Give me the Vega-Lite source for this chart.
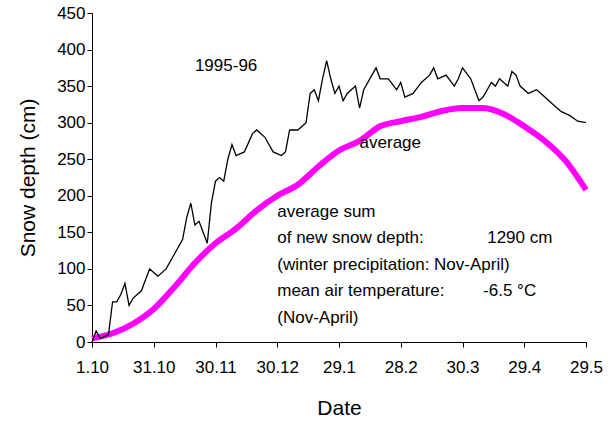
{
  "$schema": "https://vega.github.io/schema/vega-lite/v6.json",
  "width": 494,
  "height": 329,
  "autosize": "none",
  "padding": {"left": 92, "top": 13, "right": 27, "bottom": 94},
  "background": "white",
  "config": {
    "view": {"stroke": null},
    "font": "Liberation Sans",
    "axis": {"grid": false, "domainColor": "black", "tickColor": "black", "labelColor": "black", "titleColor": "black", "labelFontSize": 17, "titleFontSize": 21, "titleFontWeight": "normal", "tickSize": 5, "labelOverlap": false, "labelFlush": false}
  },
  "datasets": {
    "season": [
      {"day":0,"depth":0},{"day":2,"depth":15},{"day":4,"depth":5},{"day":8,"depth":10},{"day":10,"depth":55},{"day":12,"depth":55},{"day":14,"depth":65},{"day":16,"depth":80},{"day":18,"depth":50},{"day":20,"depth":60},{"day":24,"depth":70},{"day":28,"depth":100},{"day":32,"depth":90},{"day":36,"depth":100},{"day":40,"depth":120},{"day":44,"depth":140},{"day":46,"depth":170},{"day":48,"depth":190},{"day":50,"depth":160},{"day":52,"depth":165},{"day":56,"depth":135},{"day":58,"depth":190},{"day":60,"depth":220},{"day":62,"depth":225},{"day":64,"depth":220},{"day":66,"depth":250},{"day":68,"depth":270},{"day":70,"depth":255},{"day":74,"depth":260},{"day":78,"depth":285},{"day":80,"depth":290},{"day":84,"depth":280},{"day":88,"depth":260},{"day":92,"depth":255},{"day":94,"depth":260},{"day":96,"depth":290},{"day":100,"depth":290},{"day":104,"depth":300},{"day":106,"depth":340},{"day":108,"depth":345},{"day":110,"depth":330},{"day":112,"depth":360},{"day":114,"depth":385},{"day":116,"depth":360},{"day":118,"depth":340},{"day":120,"depth":350},{"day":122,"depth":330},{"day":124,"depth":340},{"day":128,"depth":350},{"day":130,"depth":320},{"day":132,"depth":345},{"day":136,"depth":365},{"day":138,"depth":375},{"day":140,"depth":360},{"day":144,"depth":360},{"day":148,"depth":345},{"day":150,"depth":355},{"day":152,"depth":335},{"day":156,"depth":340},{"day":160,"depth":355},{"day":164,"depth":365},{"day":166,"depth":375},{"day":168,"depth":360},{"day":172,"depth":365},{"day":176,"depth":350},{"day":178,"depth":360},{"day":180,"depth":375},{"day":184,"depth":360},{"day":186,"depth":345},{"day":188,"depth":330},{"day":190,"depth":335},{"day":194,"depth":355},{"day":196,"depth":350},{"day":198,"depth":360},{"day":200,"depth":355},{"day":202,"depth":350},{"day":204,"depth":370},{"day":206,"depth":365},{"day":208,"depth":350},{"day":212,"depth":340},{"day":216,"depth":345},{"day":220,"depth":335},{"day":224,"depth":325},{"day":228,"depth":315},{"day":232,"depth":310},{"day":236,"depth":302},{"day":240,"depth":300}
    ],
    "avg": [
      {"day":0,"depth":5},{"day":10,"depth":12},{"day":20,"depth":25},{"day":30,"depth":45},{"day":40,"depth":75},{"day":50,"depth":108},{"day":60,"depth":135},{"day":70,"depth":155},{"day":80,"depth":180},{"day":90,"depth":200},{"day":100,"depth":215},{"day":110,"depth":240},{"day":120,"depth":262},{"day":130,"depth":275},{"day":140,"depth":295},{"day":150,"depth":302},{"day":160,"depth":308},{"day":170,"depth":316},{"day":180,"depth":320},{"day":190,"depth":320},{"day":200,"depth":312},{"day":210,"depth":295},{"day":220,"depth":275},{"day":230,"depth":248},{"day":240,"depth":208}
    ],
    "notes": [
      {"day":50,"depth":378,"label":"1995-96"},
      {"day":130,"depth":272,"label":"average"},
      {"day":90,"depth":178,"label":"average sum"},
      {"day":90,"depth":142,"label":"of new snow depth:"},
      {"day":192,"depth":142,"label":"1290 cm"},
      {"day":90,"depth":105,"label":"(winter precipitation: Nov-April)"},
      {"day":90,"depth":70,"label":"mean air temperature:"},
      {"day":190,"depth":70,"label":"-6.5 °C"},
      {"day":90,"depth":33,"label":"(Nov-April)"}
    ]
  },
  "encoding": {
    "x": {"field": "day", "type": "quantitative", "scale": {"domain": [0, 240], "nice": false},
      "axis": {"title": "Date", "values": [0,30,60,90,120,150,180,210,240], "labelExpr": "['1.10','31.10','30.11','30.12','29.1','28.2','30.3','29.4','29.5'][datum.value/30]", "labelPadding": 12, "titlePadding": 22}},
    "y": {"field": "depth", "type": "quantitative", "scale": {"domain": [0, 450], "nice": false},
      "axis": {"title": "Snow depth  (cm)", "values": [0,50,100,150,200,250,300,350,400,450], "labelOverlap": false, "titlePadding": 18}}
  },
  "layer": [
    {
      "data": {"name": "avg"},
      "mark": {"type": "line", "color": "#ff00ff", "strokeWidth": 6, "interpolate": "monotone"}
    },
    {
      "data": {"name": "season"},
      "mark": {"type": "line", "color": "black", "strokeWidth": 1.3}
    },
    {
      "data": {"name": "notes"},
      "mark": {"type": "text", "fontSize": 17, "align": "left", "baseline": "middle", "color": "black"},
      "encoding": {"text": {"field": "label"}}
    }
  ]
}
